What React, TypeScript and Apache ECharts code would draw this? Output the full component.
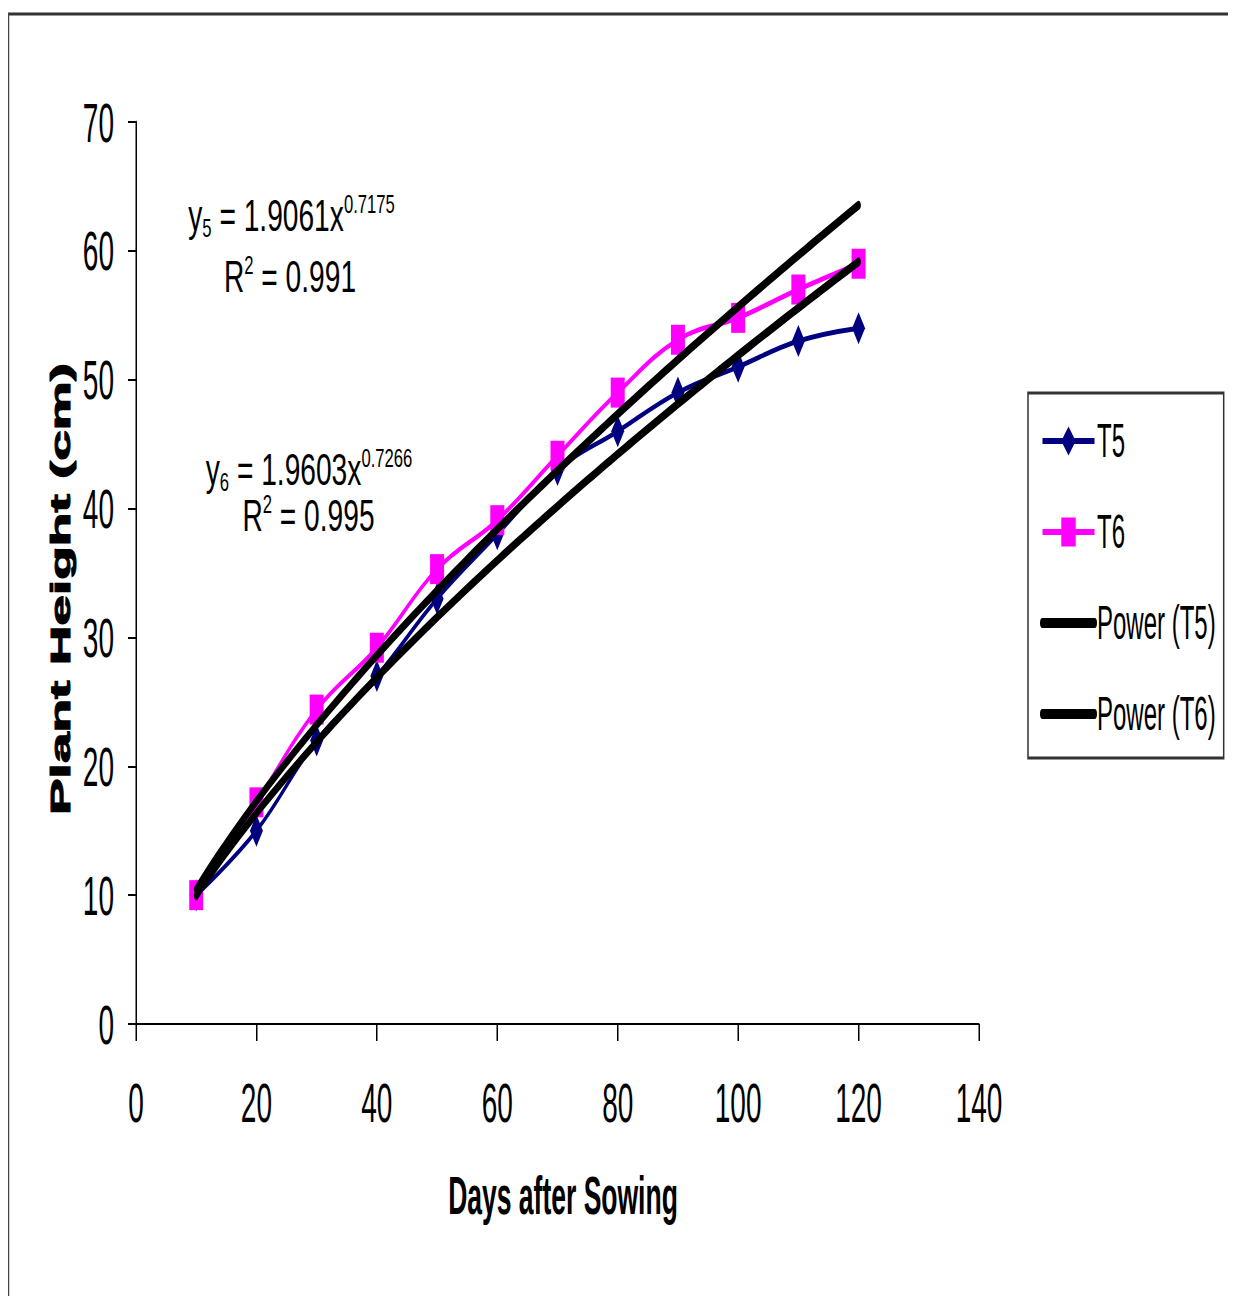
import React, { useEffect, useRef } from "react";
import * as echarts from "echarts";

// Days after sowing at which plant height was measured
const days = [10, 20, 30, 40, 50, 60, 70, 80, 90, 100, 110, 120];
// Mean plant height (cm) for each treatment
const t5Height = [10, 15, 22, 27, 33, 38, 43, 46, 49, 51, 53, 54];
const t6Height = [10, 17.2, 24.4, 29.2, 35.3, 39.1, 44.1, 49, 53.1, 54.8, 57, 59];

// Power trendline coefficients: y = a * x^b
const t5Fit = { a: 1.9061, b: 0.7175, r2: "0.991" };
const t6Fit = { a: 1.9603, b: 0.7266, r2: "0.995" };

const seriesNames = ["T5", "T6", "Power (T5)", "Power (T6)"];

// The whole figure is drawn at double width and squeezed horizontally.
const SQUEEZE = 0.5;
const BOX_W = 1228;
const BOX_H = 1288;
const CANVAS_W = BOX_W / SQUEEZE;

const FONT = "'Liberation Sans', Arial, sans-serif";

function trend(fit: { a: number; b: number }) {
  const pts: number[][] = [];
  const start = days[0];
  const end = days[days.length - 1];
  for (let x = start; x <= end; x += 1) {
    pts.push([x, fit.a * Math.pow(x, fit.b)]);
  }
  return pts;
}

const eqRich = {
  v: { fontSize: 44, fontFamily: FONT, color: "#000", lineHeight: 50 },
  sup: { fontSize: 26, fontFamily: FONT, color: "#000", verticalAlign: "top", lineHeight: 50 },
  sub: { fontSize: 26, fontFamily: FONT, color: "#000", verticalAlign: "bottom", lineHeight: 50 },
};

function eqText(x: number, y: number, text: string) {
  return {
    type: "text",
    x,
    y,
    scaleX: 1.28,
    z: 10,
    style: {
      text,
      align: "center",
      verticalAlign: "middle",
      rich: eqRich,
    },
  };
}

export default function App() {
  const ref = useRef<HTMLDivElement>(null);

  useEffect(() => {
    if (!ref.current) return;
    const chart = echarts.init(ref.current, null, { renderer: "svg" });

    const option: any = {
      animation: false,
      backgroundColor: "#fff",
      grid: { left: 256, top: 114, width: 1686, height: 902, containLabel: false },
      xAxis: {
        type: "value",
        min: 0,
        max: 140,
        interval: 20,
        axisLine: { show: true, onZero: false, lineStyle: { color: "#000", width: 2 } },
        axisTick: { show: true, length: 17, lineStyle: { color: "#000", width: 3 } },
        axisLabel: { fontSize: 56, color: "#000", margin: 50, fontFamily: FONT },
        splitLine: { show: false },
      },
      yAxis: {
        type: "value",
        min: 0,
        max: 70,
        interval: 10,
        axisLine: { show: true, onZero: false, lineStyle: { color: "#000", width: 3 } },
        axisTick: { show: true, length: 16, lineStyle: { color: "#000", width: 2 } },
        axisLabel: { fontSize: 56, color: "#000", margin: 44, fontFamily: FONT },
        splitLine: { show: false },
      },
      legend: {
        orient: "vertical",
        left: 2040,
        top: 385,
        padding: [24, 16, 20, 24],
        itemWidth: 104,
        itemHeight: 36,
        itemGap: 43,
        borderColor: "#333",
        borderWidth: 3,
        backgroundColor: "#fff",
        textStyle: { fontSize: 48, color: "#000", fontFamily: FONT },
        data: [
          { name: seriesNames[0], lineStyle: { width: 6 } },
          { name: seriesNames[1], lineStyle: { width: 6 } },
          { name: seriesNames[2], lineStyle: { width: 10 }, itemStyle: { opacity: 0 } },
          { name: seriesNames[3], lineStyle: { width: 10 }, itemStyle: { opacity: 0 } },
        ],
      },
      series: [
        {
          name: seriesNames[0],
          type: "line",
          data: days.map((d, i) => [d, t5Height[i]]),
          smooth: 0.4,
          symbol: "diamond",
          symbolSize: [26, 32],
          lineStyle: { color: "#000080", width: 5 },
          itemStyle: { color: "#000080" },
          z: 2,
        },
        {
          name: seriesNames[1],
          type: "line",
          data: days.map((d, i) => [d, t6Height[i]]),
          smooth: 0.4,
          symbol: "rect",
          symbolSize: [28, 30],
          lineStyle: { color: "#FF00FF", width: 5 },
          itemStyle: { color: "#FF00FF" },
          z: 3,
        },
        {
          name: seriesNames[2],
          type: "line",
          data: trend(t5Fit),
          symbol: "none",
          lineStyle: { color: "#000", width: 9, cap: "round" },
          itemStyle: { color: "#000" },
          z: 4,
        },
        {
          name: seriesNames[3],
          type: "line",
          data: trend(t6Fit),
          symbol: "none",
          lineStyle: { color: "#000", width: 9, cap: "round" },
          itemStyle: { color: "#000" },
          z: 4,
        },
      ],
      graphic: [
        // frame lines
        { type: "line", shape: { x1: 0, y1: 6, x2: CANVAS_W, y2: 6 }, style: { stroke: "#333", lineWidth: 3 } },
        { type: "line", shape: { x1: 1, y1: 5, x2: 1, y2: BOX_H }, style: { stroke: "#444", lineWidth: 3 } },
        // axis titles
        {
          type: "text",
          x: 1110,
          y: 1188,
          style: {
            text: "Days after Sowing",
            align: "center",
            verticalAlign: "middle",
            fontSize: 53,
            fontWeight: "bold",
            fontFamily: FONT,
            fill: "#000",
          },
        },
        {
          type: "text",
          x: 106,
          y: 581,
          rotation: Math.PI / 2,
          style: {
            text: "Plant Height (cm)",
            align: "center",
            verticalAlign: "middle",
            fontSize: 55,
            fontWeight: "bold",
            fontFamily: FONT,
            fill: "#000",
            stroke: "#000",
            lineWidth: 2,
          },
        },
        // trendline equations
        eqText(567, 208, `{v|y}{sub|5}{v| = ${t5Fit.a}x}{sup|${t5Fit.b}}`),
        eqText(564, 269, `{v|R}{sup|2}{v| = ${t5Fit.r2}}`),
        eqText(602, 462, `{v|y}{sub|6}{v| = ${t6Fit.a}x}{sup|${t6Fit.b}}`),
        eqText(601, 508, `{v|R}{sup|2}{v| = ${t6Fit.r2}}`),
      ],
    };

    chart.setOption(option);
    return () => chart.dispose();
  }, []);

  return (
    <div style={{ width: BOX_W, height: BOX_H, overflow: "hidden", position: "relative" }}>
      <div
        ref={ref}
        style={{
          position: "absolute",
          left: 0,
          top: 0,
          width: CANVAS_W,
          height: BOX_H,
          transform: `scaleX(${SQUEEZE})`,
          transformOrigin: "0 0",
        }}
      />
    </div>
  );
}
